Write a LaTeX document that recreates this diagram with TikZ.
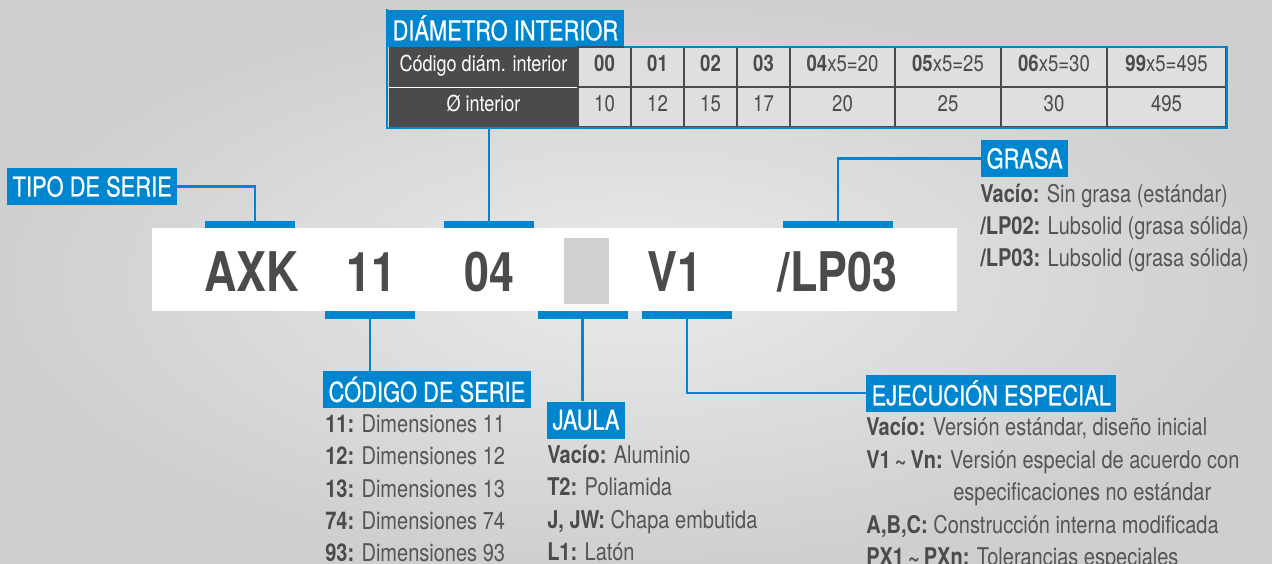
\documentclass[tikz,border=0pt]{standalone}
\usepackage{fontspec}
\setmainfont[FakeStretch=0.82]{TeX Gyre Heros}
\newfontfamily\tagfont[FakeStretch=0.8,FakeBold=0.6]{TeX Gyre Heros}
\usepackage{tikz}
\usetikzlibrary{positioning}
\definecolor{myblue}{RGB}{0,134,206}
\definecolor{mydark}{RGB}{74,75,77}
\definecolor{mytext}{RGB}{84,85,87}
\definecolor{mycell}{RGB}{222,223,225}
\definecolor{myhole}{RGB}{207,208,210}
\definecolor{bgin}{RGB}{233,234,235}
\definecolor{bgout}{RGB}{206,207,209}
\newcommand{\key}[1]{{\bfseries\color{mydark}#1}}

\begin{document}
\begin{tikzpicture}[x=0.75pt,y=-0.75pt]
	\tikzset{tag/.style={fill=myblue,text=white,font=\tagfont\fontsize{20.5}{20.5}\selectfont,inner xsep=4pt,inner ysep=0pt,minimum height=27.75pt,anchor=west}}
	\tikzset{bar/.style={fill=myblue,inner sep=0pt,minimum width=67.5pt,minimum height=5.6pt}}
	\tikzset{link/.style={draw=myblue,line width=1.6pt}}
	\tikzset{code/.style={text=mydark,font=\fontsize{41}{41}\selectfont\bfseries,anchor=base,inner sep=0pt}}
	\tikzset{item/.style={text=mytext,font=\fontsize{18.3}{18.3}\selectfont,anchor=base west,inner sep=0pt}}
	\tikzset{cell/.style={draw=mydark,line width=0.9pt,fill=mycell,text=mydark,inner sep=0pt,minimum height=30pt,text height=1.5ex,text depth=.25ex,font=\fontsize{17}{17}\selectfont}}
	\tikzset{head/.style={fill=mydark,text=white,inner sep=0pt,minimum height=30pt,minimum width=141.75pt,text height=1.5ex,text depth=.25ex,font=\fontsize{16.5}{16.5}\selectfont}}
	
	\useasboundingbox (0,0) rectangle (1272,564);
	\shade[inner color=bgin,outer color=bgout] (0,0) rectangle (1272,564);
	
	% diametro interior
	\node(diam) at (387,28) [tag] {DIÁMETRO INTERIOR};
	
	\node(hcod) at (483.5,67) [head] {Código diám. interior};
	\node(hdia) at (483.5,107) [head] {Ø interior};
	\draw[white,line width=1pt] (hcod.south west) -- (hcod.south east);
	
	\node(c00) at (604.5,67) [cell,minimum width=39.75pt] {\textbf{00}};
	\node(c01) at (657.5,67) [cell,minimum width=39.75pt] {\textbf{01}};
	\node(c02) at (710.5,67) [cell,minimum width=39.75pt] {\textbf{02}};
	\node(c03) at (763.5,67) [cell,minimum width=39.75pt] {\textbf{03}};
	\node(c04) at (842.5,67) [cell,minimum width=78.75pt] {\textbf{04}x5=20};
	\node(c05) at (948,67) [cell,minimum width=79.5pt] {\textbf{05}x5=25};
	\node(c06) at (1054,67) [cell,minimum width=79.5pt] {\textbf{06}x5=30};
	\node(c99) at (1166.5,67) [cell,minimum width=89.25pt] {\textbf{99}x5=495};
	
	\node(v00) at (604.5,107) [cell,minimum width=39.75pt] {10};
	\node(v01) at (657.5,107) [cell,minimum width=39.75pt] {12};
	\node(v02) at (710.5,107) [cell,minimum width=39.75pt] {15};
	\node(v03) at (763.5,107) [cell,minimum width=39.75pt] {17};
	\node(v04) at (842.5,107) [cell,minimum width=78.75pt] {20};
	\node(v05) at (948,107) [cell,minimum width=79.5pt] {25};
	\node(v06) at (1054,107) [cell,minimum width=79.5pt] {30};
	\node(v99) at (1166.5,107) [cell,minimum width=89.25pt] {495};
	
	\draw[link] (diam.north west) -- (diam.north west |- v99.south) -- (v99.south east) -- (v99.south east |- diam.south) -- (diam.south east);
	
	% referencia
	\node(banda) at (554.5,269.5) [fill=white,inner sep=0pt,minimum width=603.75pt,minimum height=62.25pt] {};
	\node(hueco) at (586.5,271) [fill=myhole,inner sep=0pt,minimum width=33.75pt,minimum height=49.5pt] {};
	
	\node(axk) at (251.5,291) [code] {AXK};
	\node(serie) at (371,291) [code] {11};
	\node(dint) at (489.5,291) [code] {04};
	\node(v1) at (675,291) [code] {V1};
	\node(lp03) at (837.5,291) [code] {/LP03};
	
	\node(barAXK) at (250,224.5) [bar] {};
	\node(bar04) at (489,224.5) [bar] {};
	\node(barLP) at (838,224.5) [bar,minimum width=82.5pt] {};
	\node(bar11) at (370,315) [bar] {};
	\node(barJ) at (582.5,315) [bar] {};
	\node(barV1) at (687,315) [bar] {};
	
	% etiquetas
	\node(tipo) at (7,186.5) [tag] {TIPO DE SERIE};
	\node(grasa) at (981,158.5) [tag] {GRASA};
	\node(codigo) at (323,389.5) [tag] {CÓDIGO DE SERIE};
	\node(jaula) at (547,420) [tag] {JAULA};
	\node(ejec) at (866,393) [tag] {EJECUCIÓN ESPECIAL};
	
	\draw[link] (tipo.east) -| ([xshift=3.75pt]barAXK.north);
	\draw[link] (bar04.north) -- (bar04.north |- hdia.south);
	\draw[link] (barLP.north) |- (grasa.west);
	\draw[link] (bar11.south) -- (bar11.south |- codigo.north);
	\draw[link] (barJ.south) -- (barJ.south |- jaula.north);
	\draw[link] (barV1.south) |- (ejec.west);
	
	% textos
	\node(g1) at (980,202) [item] {\key{Vacío:} Sin grasa (estándar)};
	\node(g2) at (980,234) [item] {\key{/LP02:} Lubsolid (grasa sólida)};
	\node(g3) at (980,266) [item] {\key{/LP03:} Lubsolid (grasa sólida)};
	
	\node(s1) at (325,432) [item] {\key{11:} Dimensiones 11};
	\node(s2) at (325,464) [item] {\key{12:} Dimensiones 12};
	\node(s3) at (325,497) [item] {\key{13:} Dimensiones 13};
	\node(s4) at (325,529) [item] {\key{74:} Dimensiones 74};
	\node(s5) at (325,561) [item] {\key{93:} Dimensiones 93};
	
	\node(j1) at (547,463) [item] {\key{Vacío:} Aluminio};
	\node(j2) at (547,495) [item] {\key{T2:} Poliamida};
	\node(j3) at (547,528) [item] {\key{J, JW:} Chapa embutida};
	\node(j4) at (547,560) [item] {\key{L1:} Latón};
	
	\node(e1) at (866,435) [item] {\key{Vacío:} Versión estándar, diseño inicial};
	\node(e2) at (866,468) [item] {\key{V1\,\char`\~\,Vn:} Versión especial de acuerdo con};
	\node(e3) at (953,500) [item] {especificaciones no estándar};
	\node(e4) at (866,533) [item] {\key{A,B,C:} Construcción interna modificada};
	\node(e5) at (866,565) [item] {\key{PX1\,\char`\~\,PXn:} Tolerancias especiales};
	
\end{tikzpicture}
\end{document}
